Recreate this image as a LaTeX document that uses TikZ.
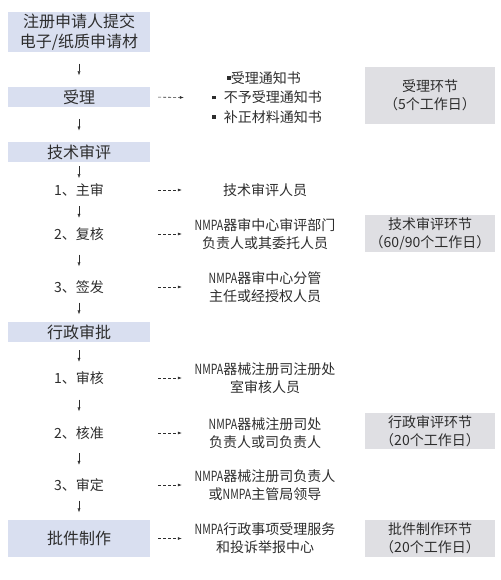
\documentclass[tikz,border=0pt]{standalone}
\usepackage{fontspec}
\setmainfont{Noto Sans CJK SC}
\usepackage{graphicx}
\usepackage{xcolor}
\usetikzlibrary{arrows.meta,positioning}

\definecolor{stagefill}{RGB}{217,223,240}
\definecolor{phasefill}{RGB}{223,223,227}
\definecolor{inkgray}{RGB}{45,45,45}
\newcommand{\nmpa}{\scalebox{0.75}[1]{NMPA}}
\newcommand{\sqbullet}{\rule[3.5pt]{3.5pt}{3.5pt}}

\begin{document}
\begin{tikzpicture}[x=1pt,y=-1pt,>=latex]
\tikzstyle{stagebox}=[rectangle,fill=stagefill,minimum width=142pt,inner sep=0pt,
                      align=center,text=inkgray,font=\fontsize{16}{20}\selectfont]
\tikzstyle{stepnode}=[rectangle,minimum width=142pt,minimum height=16pt,inner sep=0pt,
                      text=inkgray,font=\fontsize{14}{18}\selectfont]
\tikzstyle{rolenode}=[rectangle,minimum width=166pt,inner sep=0pt,align=center,
                      text=inkgray,font=\fontsize{14}{18}\selectfont]
\tikzstyle{phasebox}=[rectangle,fill=phasefill,minimum width=130pt,inner sep=0pt,
                      align=center,text=inkgray,font=\fontsize{14}{18}\selectfont]
\tikzstyle{downarrow}=[-{Latex[length=4pt,width=3pt]},thin,inkgray]
\tikzstyle{sidearrow}=[-{Latex[length=4pt,width=3pt]},semithick,inkgray,
                       dash pattern=on 3pt off 2pt,shorten <=8pt]

\useasboundingbox (0,0) rectangle (500,580);

% --- main flow (left) ---
\node[stagebox,minimum height=40pt] (submit) at (79,32) {注册申请人提交\\电子/纸质申请材};
\node[stagebox,minimum height=20pt] (accept) at (79,97) {受理};
\node[stagebox,minimum height=20pt] (tech) at (79,152.5) {技术审评};
\node[stepnode] (techA) at (79,190) {1、主审};
\node[stepnode] (techB) at (79,234) {2、复核};
\node[stepnode] (techC) at (79,287) {3、签发};
\node[stagebox,minimum height=20pt] (admin) at (79,332) {行政审批};
\node[stepnode] (adminA) at (79,378) {1、审核};
\node[stepnode] (adminB) at (79,433) {2、核准};
\node[stepnode] (adminC) at (79,485) {3、审定};
\node[stagebox,minimum height=37pt] (issue) at (79,538.5) {批件制作};

% --- who handles each step (middle) ---
\node[rolenode,align=left,font=\fontsize{14}{19.5}\selectfont] (notices) at (267,97.5)
  {\hspace{15pt}\sqbullet 受理通知书\\\sqbullet\hspace{8pt}不予受理通知书\\\sqbullet\hspace{8pt}补正材料通知书};
\node[rolenode] (roleA) at (265,190) {技术审评人员};
\node[rolenode] (roleB) at (265,234) {\nmpa 器审中心审评部门\\负责人或其委托人员};
\node[rolenode] (roleC) at (265,287) {\nmpa 器审中心分管\\主任或经授权人员};
\node[rolenode] (roleD) at (265,378) {\nmpa 器械注册司注册处\\室审核人员};
\node[rolenode] (roleE) at (265,433) {\nmpa 器械注册司处\\负责人或司负责人};
\node[rolenode] (roleF) at (265,485) {\nmpa 器械注册司负责人\\或\nmpa 主管局领导};
\node[rolenode] (roleG) at (265,538.5) {\nmpa 行政事项受理服务\\和投诉举报中心};

% --- time limits (right) ---
\node[phasebox,minimum height=57pt] (acceptPhase) at (430,95.5) {受理环节\\（5个工作日）};
\node[phasebox,minimum height=37pt] (techPhase) at (430,233.5) {技术审评环节\\（60/90个工作日）};
\node[phasebox,minimum height=36pt] (adminPhase) at (430,431) {行政审评环节\\（20个工作日）};
\node[phasebox,minimum height=37pt] (issuePhase) at (430,538.5) {批件制作环节\\（20个工作日）};

% --- arrows ---
\foreach \a/\b/\s in {submit/accept/11.5pt,accept/tech/11.75pt,tech/techA/3.75pt,
                      techA/techB/8pt,techB/techC/12.5pt,techC/admin/7.5pt,
                      admin/adminA/8pt,adminA/adminB/13.5pt,adminB/adminC/12pt,
                      adminC/issue/7.5pt}
  \draw[downarrow,shorten <=\s,shorten >=\s] (\a) -- (\b);
\foreach \a/\b in {accept/notices,techA/roleA,techB/roleB,techC/roleC,
                   adminA/roleD,adminB/roleE,adminC/roleF,issue/roleG}
  \draw[sidearrow] (\a.east) -- (\b.west);

\end{tikzpicture}
\end{document}
